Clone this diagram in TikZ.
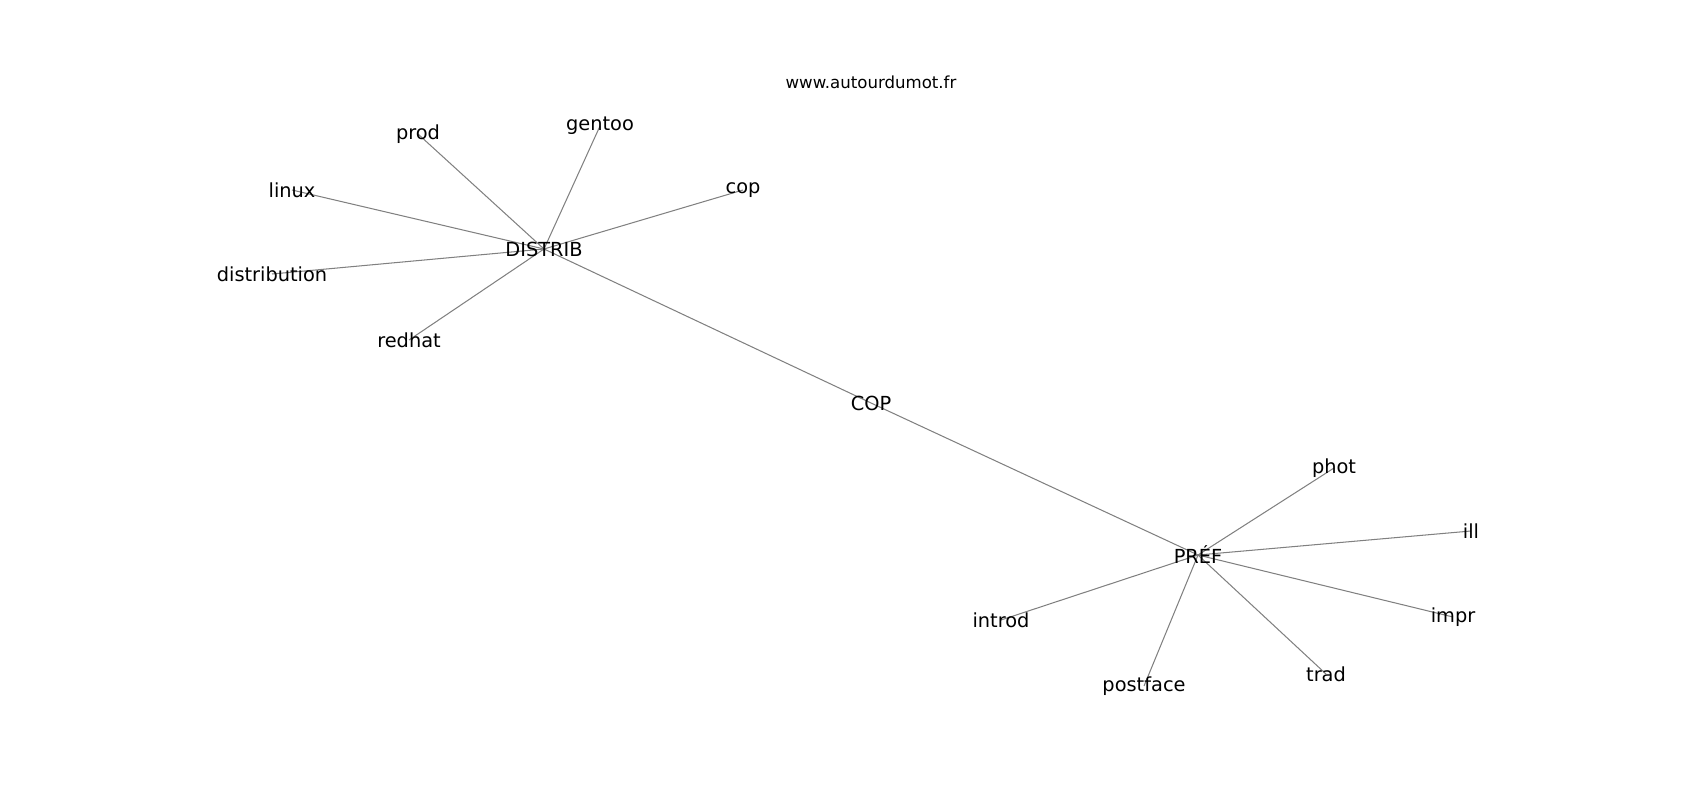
\documentclass[tikz,border=0pt]{standalone}
\usepackage{fontspec}
\setmainfont{DejaVu Sans}
\usetikzlibrary{backgrounds}

\begin{document}
\begin{tikzpicture}[x=0.0254cm, y=-0.0254cm,
        etiqueta/.style={inner sep=0pt, font=\fontsize{14}{16}\selectfont},
        aresta/.style={draw=black!50, line width=0.75pt}]
        \useasboundingbox (0,0) rectangle (1700,800);

        % Títol del graf
        \node[inner sep=0pt, font=\fontsize{12}{14}\selectfont] (titol) at (871,82) {www.autourdumot.fr};

        % Nodes centrals
        \node[etiqueta] (distrib) at (544,249) {DISTRIB};
        \node[etiqueta] (cop) at (871,403) {COP};
        \node[etiqueta] (pref) at (1198,555) {PRÉF};

        % Veïns de DISTRIB
        \node[etiqueta] (prod) at (418,134) {prod};
        \node[etiqueta] (gentoo) at (600,126) {gentoo};
        \node[etiqueta] (linux) at (292,190) {linux};
        \node[etiqueta] (cop2) at (743,190) {cop};
        \node[etiqueta] (distribution) at (272,274) {distribution};
        \node[etiqueta] (redhat) at (409,340) {redhat};

        % Veïns de PRÉF
        \node[etiqueta] (phot) at (1334,468) {phot};
        \node[etiqueta] (ill) at (1471,531) {ill};
        \node[etiqueta] (impr) at (1453,617) {impr};
        \node[etiqueta] (introd) at (1001,620) {introd};
        \node[etiqueta] (postface) at (1144,686) {postface};
        \node[etiqueta] (trad) at (1326,674) {trad};

        % Arestes, per sota de les etiquetes
        \begin{scope}[on background layer]
            \foreach \v in {prod,gentoo,linux,cop2,distribution,redhat,cop}
                \draw[aresta] (distrib.center) -- (\v.center);
            \foreach \v in {phot,ill,impr,introd,postface,trad,cop}
                \draw[aresta] (pref.center) -- (\v.center);
        \end{scope}
\end{tikzpicture}
\end{document}
